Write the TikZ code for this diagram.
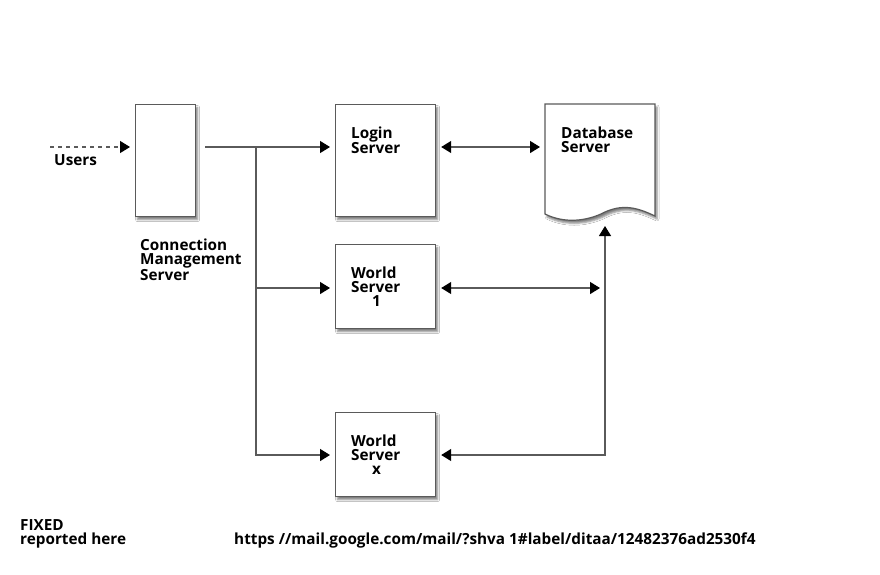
\documentclass[tikz,border=0pt]{standalone}
\usepackage{fontspec}
\setmainfont{Open Sans}
\usetikzlibrary{arrows.meta,shadows.blur}
\definecolor{ln}{HTML}{5A5A5A}
\newcommand\mlines[1]{\vtop{\baselineskip=14.3pt\halign{##\hfil\cr#1\crcr}}}
\begin{document}
\begin{tikzpicture}[x=1pt,y=-1pt,
  box/.style={draw=ln,line width=1.2pt,fill=white,minimum width=100pt,minimum height=112pt,inner sep=0pt,anchor=north west,
    blur shadow={shadow xshift=2pt,shadow yshift=-3pt,shadow blur radius=2pt,shadow opacity=50}},
  lbl/.style={font=\fontsize{15.3}{14.3}\bfseries,inner sep=0pt,anchor=base west},
  tip/.tip={Triangle[length=10pt,width=12pt,color=black]},
  wire/.style={draw=ln,line width=1.3pt}
]
\useasboundingbox (0,0) rectangle (880,574);
\fill[white] (0,0) rectangle (880,574);
% boxes
\node[box,minimum width=60pt] (cms) at (135,104) {};
\node[box] (login) at (335,104) {};
\node[box,minimum height=84pt] (w1) at (335,244) {};
\node[box,minimum height=84pt] (wx) at (335,412) {};
% database document shape
\coordinate (db) at (600,226);
\coordinate (dbw) at (545,147);
\path[blur shadow={shadow xshift=2pt,shadow yshift=-3pt,shadow blur radius=2pt,shadow opacity=50},draw=ln,line width=1.2pt,fill=white]
  (545,104) -- (655,104) -- (655,216)
  .. controls (640,209) and (625,203) .. (605,212)
  .. controls (588,221) and (565,224) .. (545,214) -- cycle;
% texts
\node[lbl] (tusers) at (54,165) {Users};
\node[lbl] (tcms) at (140,250) {\mlines{Connection\cr Management\cr Server}};
\node[lbl] (tlogin) at (351,138) {\mlines{Login\cr Server}};
\node[lbl] (tdb) at (561,138) {\mlines{Database\cr Server}};
\node[lbl] (tw1) at (351,278) {\mlines{World\cr Server\cr \hspace*{21pt}1}};
\node[lbl] (twx) at (351,446) {\mlines{World\cr Server\cr \hspace*{21pt}x}};
\node[lbl] (tfix) at (20,530) {\mlines{FIXED\cr reported here}};
\node[lbl] (turl) at (234,544) {https //mail.google.com/mail/?shva 1\#label/ditaa/12482376ad2530f4};
% connectors
\coordinate (u) at (50,147);
\coordinate (cmsout) at (205,147);
\coordinate (j) at (256,147);
\coordinate (d1) at (605,288);
\coordinate (d2) at (605,455);
\draw[wire,dashed,dash pattern=on 4pt off 4pt,-tip] (u) -- ([xshift=-5pt]cms.west |- u);
\draw[wire,-tip] (cmsout) -- ([xshift=-5pt]login.west |- cmsout);
\draw[wire,-tip] (j) |- ([xshift=-5pt]w1.west |- d1);
\draw[wire,-tip] (j) |- ([xshift=-5pt]wx.west |- d2);
\draw[wire,tip-tip] ([xshift=5pt]login.east |- cmsout) -- ([xshift=-5pt]dbw);
\draw[wire,tip-tip] ([xshift=5pt]w1.east |- d1) -- ([xshift=-5pt]d1);
\draw[wire,tip-tip] ([xshift=5pt]wx.east |- d2) -- (d2) -- (d2 |- db);
\end{tikzpicture}
\end{document}
